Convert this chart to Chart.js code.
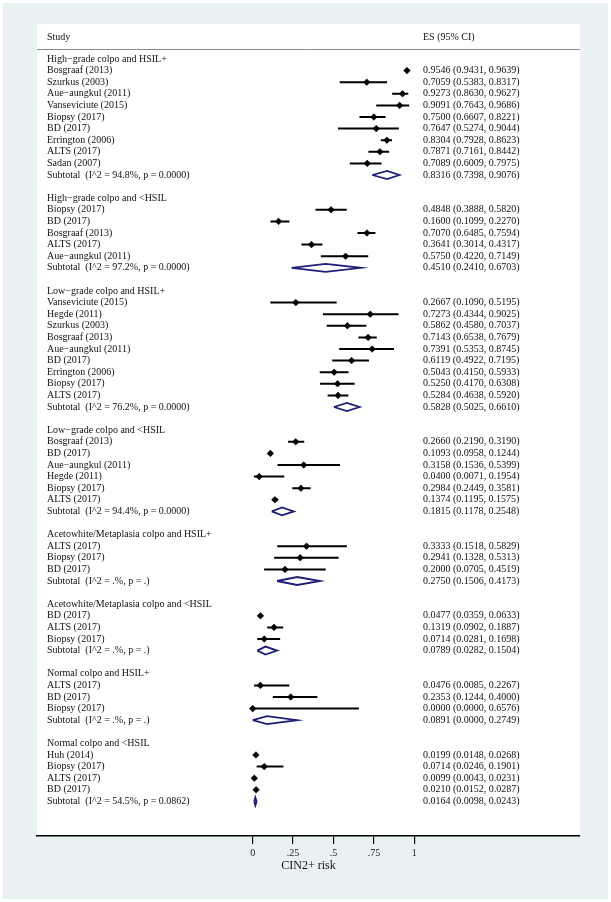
<!DOCTYPE html>
<html>
<head>
<meta charset="utf-8">
<script src="https://cdn.jsdelivr.net/npm/chart.js@4/dist/chart.umd.min.js"></script>
<style>
  html, body { margin: 0; padding: 0; background: #ffffff; }
  #wrap { width: 611px; height: 902px; }
</style>
</head>
<body>
<div id="wrap"><canvas id="c" width="611" height="902"></canvas></div>
<script>
// ---------------- DATA ----------------
const groupTitles = [
  "High\u2212grade colpo and HSIL+",
  "High\u2212grade colpo and <HSIL",
  "Low\u2212grade colpo and HSIL+",
  "Low\u2212grade colpo and <HSIL",
  "Acetowhite/Metaplasia colpo and HSIL+",
  "Acetowhite/Metaplasia colpo and <HSIL",
  "Normal colpo and HSIL+",
  "Normal colpo and <HSIL"
];

const studyNames = [
  ["Bosgraaf (2013)", "Szurkus (2003)", "Aue\u2212aungkul (2011)", "Vanseviciute (2015)", "Biopsy (2017)", "BD (2017)", "Errington (2006)", "ALTS (2017)", "Sadan (2007)"],
  ["Biopsy (2017)", "BD (2017)", "Bosgraaf (2013)", "ALTS (2017)", "Aue\u2212aungkul (2011)"],
  ["Vanseviciute (2015)", "Hegde (2011)", "Szurkus (2003)", "Bosgraaf (2013)", "Aue\u2212aungkul (2011)", "BD (2017)", "Errington (2006)", "Biopsy (2017)", "ALTS (2017)"],
  ["Bosgraaf (2013)", "BD (2017)", "Aue\u2212aungkul (2011)", "Hegde (2011)", "Biopsy (2017)", "ALTS (2017)"],
  ["ALTS (2017)", "Biopsy (2017)", "BD (2017)"],
  ["BD (2017)", "ALTS (2017)", "Biopsy (2017)"],
  ["ALTS (2017)", "BD (2017)", "Biopsy (2017)"],
  ["Huh (2014)", "Biopsy (2017)", "ALTS (2017)", "BD (2017)"]
];

const studyES = [
  [0.9546, 0.7059, 0.9273, 0.9091, 0.7500, 0.7647, 0.8304, 0.7871, 0.7089],
  [0.4848, 0.1600, 0.7070, 0.3641, 0.5750],
  [0.2667, 0.7273, 0.5862, 0.7143, 0.7391, 0.6119, 0.5043, 0.5250, 0.5284],
  [0.2660, 0.1093, 0.3158, 0.0400, 0.2984, 0.1374],
  [0.3333, 0.2941, 0.2000],
  [0.0477, 0.1319, 0.0714],
  [0.0476, 0.2353, 0.0000],
  [0.0199, 0.0714, 0.0099, 0.0210]
];

const studyLow = [
  [0.9431, 0.5383, 0.8630, 0.7643, 0.6607, 0.5274, 0.7928, 0.7161, 0.6009],
  [0.3888, 0.1099, 0.6485, 0.3014, 0.4220],
  [0.1090, 0.4344, 0.4580, 0.6538, 0.5353, 0.4922, 0.4150, 0.4170, 0.4638],
  [0.2190, 0.0958, 0.1536, 0.0071, 0.2449, 0.1195],
  [0.1518, 0.1328, 0.0705],
  [0.0359, 0.0902, 0.0281],
  [0.0085, 0.1244, 0.0000],
  [0.0148, 0.0246, 0.0043, 0.0152]
];

const studyHigh = [
  [0.9639, 0.8317, 0.9627, 0.9686, 0.8221, 0.9044, 0.8623, 0.8442, 0.7975],
  [0.5820, 0.2270, 0.7594, 0.4317, 0.7149],
  [0.5195, 0.9025, 0.7037, 0.7679, 0.8745, 0.7195, 0.5933, 0.6308, 0.5920],
  [0.3190, 0.1244, 0.5399, 0.1954, 0.3581, 0.1575],
  [0.5829, 0.5313, 0.4519],
  [0.0633, 0.1887, 0.1698],
  [0.2267, 0.4000, 0.6576],
  [0.0268, 0.1901, 0.0231, 0.0287]
];

const subtotalLabels = [
  "Subtotal  (I^2 = 94.8%, p = 0.0000)",
  "Subtotal  (I^2 = 97.2%, p = 0.0000)",
  "Subtotal  (I^2 = 76.2%, p = 0.0000)",
  "Subtotal  (I^2 = 94.4%, p = 0.0000)",
  "Subtotal  (I^2 = .%, p = .)",
  "Subtotal  (I^2 = .%, p = .)",
  "Subtotal  (I^2 = .%, p = .)",
  "Subtotal  (I^2 = 54.5%, p = 0.0862)"
];
const subtotalES   = [0.8316, 0.4510, 0.5828, 0.1815, 0.2750, 0.0789, 0.0891, 0.0164];
const subtotalLow  = [0.7398, 0.2410, 0.5025, 0.1178, 0.1506, 0.0282, 0.0000, 0.0098];
const subtotalHigh = [0.9076, 0.6703, 0.6610, 0.2548, 0.4173, 0.1504, 0.2749, 0.0243];

const xTickValues = [0, 0.25, 0.5, 0.75, 1];
const xTickLabels = ["0", ".25", ".5", ".75", "1"];
const axisTitle = "CIN2+ risk";
const headerLeft = "Study";
const headerRight = "ES (95% CI)";

// ---------------- BUILD ROWS ----------------
const fmt = (e, lo, hi) => e.toFixed(4) + " (" + lo.toFixed(4) + ", " + hi.toFixed(4) + ")";
const DIAMOND_HALF = 0.345; // in row units
const textRows = [];
const ciLine = [], markers = [], diamonds = [];
let r = 0;
groupTitles.forEach((g, gi) => {
  textRows.push({ row: r, left: g, right: "" });
  r++;
  studyNames[gi].forEach((n, i) => {
    const e = studyES[gi][i], lo = studyLow[gi][i], hi = studyHigh[gi][i];
    textRows.push({ row: r, left: n, right: fmt(e, lo, hi) });
    ciLine.push({ x: lo, y: r }, { x: hi, y: r }, { x: hi, y: null });
    markers.push({ x: e, y: r });
    r++;
  });
  const e = subtotalES[gi], lo = subtotalLow[gi], hi = subtotalHigh[gi];
  textRows.push({ row: r, left: subtotalLabels[gi], right: fmt(e, lo, hi) });
  diamonds.push(
    { x: lo, y: r }, { x: e, y: r - DIAMOND_HALF }, { x: hi, y: r },
    { x: e, y: r + DIAMOND_HALF }, { x: lo, y: r }, { x: lo, y: null }
  );
  r += 2;
});

// ---------------- PLUGINS ----------------
const FONT = "'Liberation Serif', 'Times New Roman', serif";
const bgPlugin = {
  id: 'bg',
  beforeDraw(chart) {
    const ctx = chart.ctx, a = chart.chartArea;
    ctx.save();
    ctx.fillStyle = '#ffffff';
    ctx.fillRect(0, 0, chart.width, chart.height);
    ctx.fillStyle = '#eaf1f3';
    ctx.fillRect(3, 3, chart.width - 6, chart.height - 6);
    ctx.fillStyle = '#ffffff';
    ctx.fillRect(a.left, a.top, a.right - a.left, a.bottom - a.top);
    ctx.restore();
  }
};
const textPlugin = {
  id: 'texts',
  afterDraw(chart) {
    const ctx = chart.ctx, a = chart.chartArea, ys = chart.scales.y;
    const LX = 47, RX = 423;
    ctx.save();
    ctx.font = "10px " + FONT;
    ctx.fillStyle = '#111';
    ctx.textBaseline = 'middle';
    ctx.textAlign = 'left';
    const hy = ys.getPixelForValue(-1.9);
    ctx.fillText(headerLeft, LX, hy);
    ctx.fillText(headerRight, RX, hy);
    // header separator
    const ly = Math.round(ys.getPixelForValue(-0.86)) + 0.5;
    ctx.strokeStyle = '#8a8a8a';
    ctx.lineWidth = 1;
    ctx.beginPath();
    ctx.moveTo(a.left, ly);
    ctx.lineTo(a.right, ly);
    ctx.stroke();
    textRows.forEach(t => {
      const y = ys.getPixelForValue(t.row);
      ctx.fillText(t.left, LX, y);
      if (t.right) ctx.fillText(t.right, RX, y);
    });
    ctx.restore();
  }
};

// ---------------- CHART ----------------
new Chart(document.getElementById('c'), {
  type: 'scatter',
  data: {
    datasets: [
      {
        label: 'ES',
        data: markers,
        pointStyle: 'rectRot',
        pointRadius: 3.3,
        pointBackgroundColor: '#000',
        pointBorderColor: '#000',
        pointBorderWidth: 0.6,
        showLine: false
      },
      {
        label: 'CI',
        type: 'line',
        data: ciLine,
        borderColor: '#000',
        borderWidth: 2,
        pointRadius: 0,
        spanGaps: false,
        tension: 0,
        fill: false
      },
      {
        label: 'Subtotal',
        type: 'line',
        data: diamonds,
        borderColor: '#1e1e78',
        borderWidth: 1.8,
        pointRadius: 0,
        spanGaps: false,
        tension: 0,
        fill: false,
        borderJoinStyle: 'miter'
      }
    ]
  },
  options: {
    responsive: false,
    animation: false,
    devicePixelRatio: 1,
    layout: { padding: { left: 37, right: 31, top: 24, bottom: 0 } },
    plugins: { legend: { display: false }, tooltip: { enabled: false } },
    scales: {
      x: {
        type: 'linear',
        min: -1.3348,
        max: 2.0254,
        afterBuildTicks: (axis) => { axis.ticks = xTickValues.map(v => ({ value: v })); },
        afterFit: (axis) => { axis.height = 66; },
        ticks: {
          callback: (v, i) => xTickLabels[i],
          font: { family: FONT, size: 10 },
          color: '#222',
          padding: 3,
          maxRotation: 0,
          autoSkip: false
        },
        grid: { display: true, drawOnChartArea: false, drawTicks: true, tickLength: 8, color: '#000', lineWidth: 1.2 },
        border: { display: true, color: '#000', width: 1.5 },
        title: {
          display: true,
          text: axisTitle,
          font: { family: FONT, size: 12 },
          color: '#111',
          padding: { top: 0, bottom: 29 }
        }
      },
      y: {
        type: 'linear',
        display: false,
        reverse: true,
        min: -3.017,
        max: 66.983
      }
    }
  },
  plugins: [bgPlugin, textPlugin]
});
</script>
</body>
</html>
